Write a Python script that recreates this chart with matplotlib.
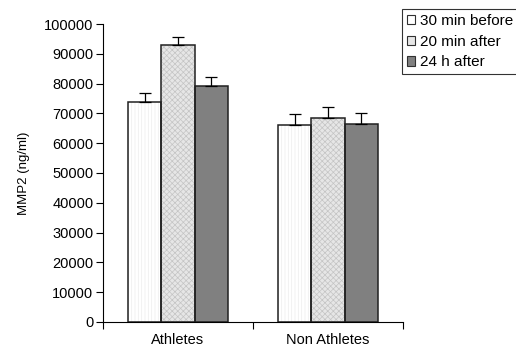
import matplotlib.pyplot as plt
from matplotlib.patches import Patch
import numpy as np

plt.rcParams['font.family'] = ['Liberation Sans', 'DejaVu Sans']
plt.rcParams['hatch.linewidth'] = 0.5

groups = ['Athletes', 'Non Athletes']
series = ['30 min before', '20 min after', '24 h after']
means = {
    '30 min before': [73800, 66100],
    '20 min after': [93000, 68500],
    '24 h after': [79200, 66400],
}
errors = {
    '30 min before': [3000, 3700],
    '20 min after': [2700, 3600],
    '24 h after': [3000, 3700],
}
faces = ['#ffffff', '#e6e6e6', '#808080']
hatch_cols = ['#ececec', '#c4c4c4', '#808080']
hatches = ['|||||', 'xxxxxx', None]

fig = plt.figure(figsize=(5.16, 3.49), dpi=100)
ax = fig.add_axes([0.1996, 0.0774, 0.5814, 0.8538])

w = 0.222
centers = np.array([0.5, 1.5])
for i, s in enumerate(series):
    x = centers + (i - 1) * w
    # fill with faint pattern, then a dark outline on top
    ax.bar(x, means[s], width=w, color=faces[i], edgecolor=hatch_cols[i],
           linewidth=0, hatch=hatches[i], zorder=2)
    ax.bar(x, means[s], width=w, fill=False, edgecolor='#202020',
           linewidth=1.1, zorder=2.5)
    ax.errorbar(x, means[s], yerr=[np.zeros(2), errors[s]], fmt='none',
                ecolor='black', elinewidth=0.9, capsize=4, capthick=0.9, zorder=3)

ax.set_xlim(0, 2)
ax.set_ylim(0, 100000)
ax.set_yticks(np.arange(0, 100001, 10000))
ax.set_xticks([0, 1, 2])
ax.set_xticklabels([])
ax.set_xticks(centers, minor=True)
ax.set_xticklabels(groups, minor=True)
ax.tick_params(axis='x', which='minor', length=0, pad=8, labelsize=10.5)
ax.tick_params(axis='x', which='major', direction='out', length=5)
ax.tick_params(axis='y', direction='out', length=5, labelsize=10.5, pad=2)
ax.spines['top'].set_visible(False)
ax.spines['right'].set_visible(False)
ax.set_ylabel('MMP2 (ng/ml)', fontsize=9.5, labelpad=10)

handles = [Patch(facecolor=faces[i], edgecolor='#303030', linewidth=0.8,
                 label=series[i]) for i in range(3)]
leg = ax.legend(handles=handles, loc='upper left', bbox_to_anchor=(0.997, 1.05),
                fontsize=11, frameon=True, fancybox=False, edgecolor='black',
                handlelength=0.55, handleheight=0.55, handletextpad=0.35,
                borderpad=0.3, labelspacing=0.45, borderaxespad=0)
leg.get_frame().set_linewidth(0.8)

fig.savefig('out.png', dpi=100)
